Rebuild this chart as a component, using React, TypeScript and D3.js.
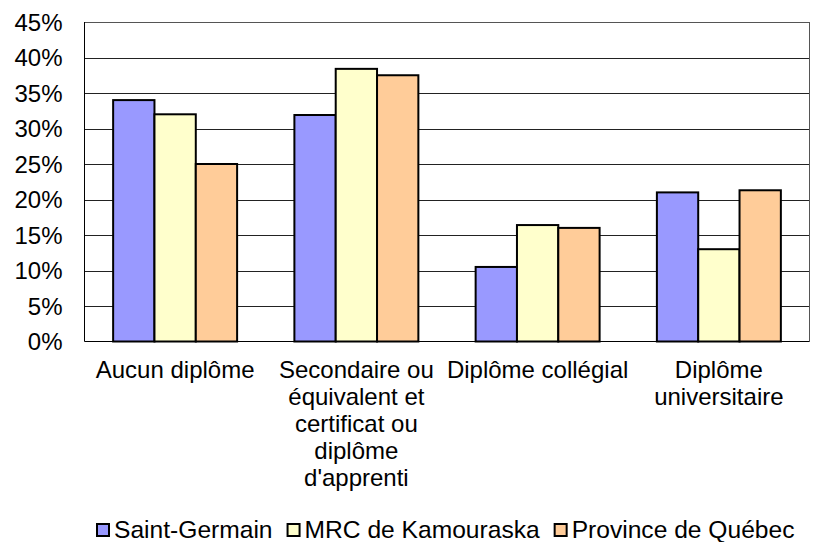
import React, { useEffect, useRef } from 'react';
import * as d3 from 'd3';

const categories = [
  ['Aucun diplôme'],
  ['Secondaire ou', 'équivalent et', 'certificat ou', 'diplôme', "d'apprenti"],
  ['Diplôme collégial'],
  ['Diplôme', 'universitaire'],
];
const seriesNames = ['Saint-Germain', 'MRC de Kamouraska', 'Province de Québec'];
const seriesColors = ['#9999FF', '#FFFFCC', '#FFCC99'];
const saintGermain = [34.0, 31.9, 10.5, 21.0];
const mrcKamouraska = [32.0, 38.4, 16.4, 13.0];
const provinceQuebec = [25.0, 37.5, 16.0, 21.3];
const yTicks = [0, 5, 10, 15, 20, 25, 30, 35, 40, 45];

const width = 819;
const height = 542;
const font = '"Liberation Sans", Arial, sans-serif';

export default function App() {
  const ref = useRef<SVGSVGElement>(null);

  useEffect(() => {
    const svg = d3.select(ref.current);
    svg.selectAll('*').remove();

    const left = 84.5;
    const right = 809.5;
    const top = 22;
    const bottom = 341.5;

    const series = [saintGermain, mrcKamouraska, provinceQuebec];

    const y = d3.scaleLinear().domain([0, 45]).range([bottom, top]);
    const x0 = d3
      .scaleBand<number>()
      .domain(d3.range(categories.length))
      .range([left, right])
      .paddingInner(0.316)
      .paddingOuter(0.158);
    const x1 = d3
      .scaleBand<number>()
      .domain(d3.range(series.length))
      .range([0, x0.bandwidth()]);

    // gridlines
    svg
      .append('g')
      .selectAll('line')
      .data(yTicks.slice(1))
      .enter()
      .append('line')
      .attr('x1', left)
      .attr('x2', right)
      .attr('y1', (d) => Math.round(y(d)) + 0.5)
      .attr('y2', (d) => Math.round(y(d)) + 0.5)
      .style('stroke', (d) => (d === 45 ? '#555' : '#222'))
      .style('stroke-width', 1);

    // right border
    svg
      .append('line')
      .attr('x1', right)
      .attr('x2', right)
      .attr('y1', top)
      .attr('y2', bottom)
      .style('stroke', '#555');

    // bars
    const groups = svg
      .append('g')
      .selectAll('g')
      .data(categories.map((_, i) => i))
      .enter()
      .append('g')
      .attr('transform', (i) => `translate(${x0(i)},0)`);

    groups
      .selectAll('rect')
      .data((i) => series.map((s, k) => ({ k, v: s[i] })))
      .enter()
      .append('rect')
      .attr('x', (d) => x1(d.k)!)
      .attr('y', (d) => y(d.v))
      .attr('width', x1.bandwidth())
      .attr('height', (d) => bottom - y(d.v))
      .style('fill', (d) => seriesColors[d.k])
      .style('stroke', '#000')
      .style('stroke-width', 2);

    // axes lines
    svg
      .append('line')
      .attr('x1', left)
      .attr('x2', left)
      .attr('y1', top)
      .attr('y2', bottom)
      .style('stroke', '#000');
    svg
      .append('line')
      .attr('x1', left)
      .attr('x2', right)
      .attr('y1', bottom)
      .attr('y2', bottom)
      .style('stroke', '#000');

    // y tick labels
    svg
      .append('g')
      .selectAll('text')
      .data(yTicks)
      .enter()
      .append('text')
      .attr('x', 62.5)
      .attr('y', (d) => y(d) + 8.5)
      .attr('text-anchor', 'end')
      .style('font-family', font)
      .style('font-size', '24px')
      .style('fill', '#000')
      .text((d) => `${d}%`);

    // category labels
    const catText = svg
      .append('g')
      .selectAll('text')
      .data(categories)
      .enter()
      .append('text')
      .attr('text-anchor', 'middle')
      .style('font-family', font)
      .style('font-size', '24px')
      .style('fill', '#000');
    catText
      .selectAll('tspan')
      .data((d, i) => d.map((line) => ({ line, i })))
      .enter()
      .append('tspan')
      .attr('x', (d) => x0(d.i)! + x0.bandwidth() / 2)
      .attr('y', (_, j) => 377.5 + j * 27)
      .text((d) => d.line);

    // legend
    const legend = svg.append('g');
    let lx = 97;
    seriesNames.forEach((name, k) => {
      legend
        .append('rect')
        .attr('x', lx)
        .attr('y', 524)
        .attr('width', 12)
        .attr('height', 12)
        .style('fill', seriesColors[k])
        .style('stroke', '#000')
        .style('stroke-width', 2);
      const t = legend
        .append('text')
        .attr('x', lx + 17)
        .attr('y', 537.5)
        .style('font-family', font)
        .style('font-size', '24.6px')
        .style('fill', '#000')
        .text(name);
      const w = (t.node() as SVGTextElement).getComputedTextLength();
      lx = lx + 17 + w + 15;
    });
  }, []);

  return (
    <svg
      ref={ref}
      width={width}
      height={height}
      style={{ position: 'absolute', left: 0, top: 0, background: '#fff' }}
    />
  );
}
